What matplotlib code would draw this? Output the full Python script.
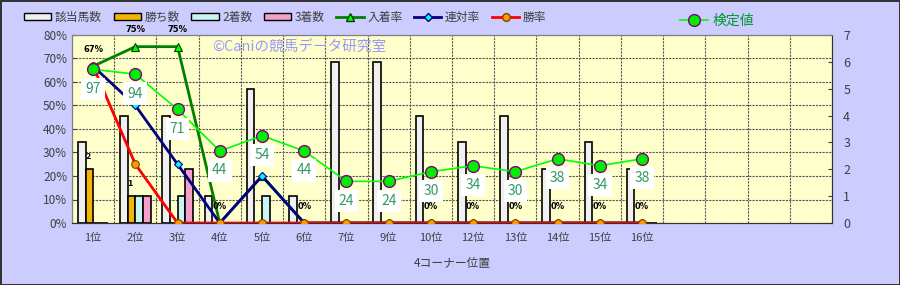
import matplotlib
matplotlib.use("Agg")
import matplotlib.pyplot as plt
import numpy as np
from matplotlib.lines import Line2D
from matplotlib.patches import Patch
from matplotlib.ticker import FuncFormatter, MultipleLocator

plt.rcParams["font.family"] = ["Noto Sans CJK JP", "DejaVu Sans"]
plt.rcParams["axes.unicode_minus"] = False

# ---- data ----
positions = ["1位", "2位", "3位", "4位", "5位", "6位", "7位", "9位",
             "10位", "12位", "13位", "14位", "15位", "16位", "", "", "", ""]
n_horses = [3, 4, 4, 1, 5, 1, 6, 6, 4, 3, 4, 2, 3, 2]
wins = [2, 1, 0, 0, 0, 0, 0, 0, 0, 0, 0, 0, 0, 0]
seconds = [0, 1, 1, 0, 1, 0, 0, 0, 0, 0, 0, 0, 0, 0]
thirds = [0, 1, 2, 0, 0, 0, 0, 0, 0, 0, 0, 0, 0, 0]
place_rate = [66.7, 75, 75, 0, 20, 0, 0, 0, 0, 0, 0, 0, 0, 0]
rentai_rate = [66.7, 50, 25, 0, 20, 0, 0, 0, 0, 0, 0, 0, 0, 0]
win_rate = [66.7, 25, 0, 0, 0, 0, 0, 0, 0, 0, 0, 0, 0, 0]
kentei = [5.72, 5.54, 4.23, 2.68, 3.25, 2.68, 1.55, 1.55, 1.91, 2.13, 1.91, 2.39, 2.13, 2.39]
kentei_labels = [97, 94, 71, 44, 54, 44, 24, 24, 30, 34, 30, 38, 34, 38]

BG = "#CCCCFF"
PLOT_BG = "#FFFFCC"
TXT = "#404040"

fig = plt.figure(figsize=(9, 2.85), dpi=100, facecolor=BG,
                 edgecolor="#333333", linewidth=2)
rect = [0.08, 0.2175, 0.8445, 0.66]

# base axes: percent scale, background + grid
ax = fig.add_axes(rect)
ax.set_facecolor(PLOT_BG)
ax.set_xlim(-0.5, len(positions) - 0.5)
ax.set_ylim(0, 80)
ax.yaxis.set_major_locator(MultipleLocator(10))
ax.yaxis.set_major_formatter(FuncFormatter(lambda v, p: f"{v:.0f}%"))
x = np.arange(len(positions))
ax.set_xticks(x)
ax.set_xticklabels(positions)
ax.set_xticks(np.arange(len(positions) + 1) - 0.5, minor=True)
ax.grid(axis="y", which="major", ls=(0, (2, 1)), color="#555555", lw=0.8)
ax.grid(axis="x", which="minor", ls=(0, (2, 1)), color="#555555", lw=0.8)
ax.tick_params(axis="x", which="both", length=0, labelsize=8, colors=TXT, pad=7)
ax.tick_params(axis="y", length=3, direction="in", labelsize=8.5, colors=TXT)
ax.set_xlabel("4コーナー位置", fontsize=8.5, color=TXT, labelpad=10)
for s in ax.spines.values():
    s.set_color("#808080")

# counts (bars) on 0-7 scale
ax_b = ax.twinx()
ax_b.set_ylim(0, 7)
ax_b.yaxis.set_major_locator(MultipleLocator(1))
ax_b.tick_params(axis="y", length=3, direction="in", labelsize=9, colors=TXT, pad=8)
for s in ax_b.spines.values():
    s.set_color("#808080")
ax_b.spines["right"].set_color("#333333")
ax_b.spines["bottom"].set_color("#333333")

xi = np.arange(len(n_horses))
w = 0.18
ax_b.bar(xi - 1.5 * w, n_horses, w, color="#F0F0F0", edgecolor="black", lw=1.2)
ax_b.bar(xi - 0.5 * w, wins, w, color="#F2B705", edgecolor="black", lw=1.2)
ax_b.bar(xi + 0.5 * w, seconds, w, color="#C8F4F4", edgecolor="black", lw=1.2)
ax_b.bar(xi + 1.5 * w, thirds, w, color="#F4A0C8", edgecolor="black", lw=1.2)
for xx, v in zip(xi, wins):
    if v > 0:
        ax_b.annotate(str(v), (xx - 0.5 * w, v), xytext=(-1, 6),
                      textcoords="offset points", ha="center", va="bottom",
                      fontsize=6.5, fontweight="bold", color="black")

# rates on percent scale, above bars
ax_r = ax.twinx()
ax_r.set_ylim(0, 80)
ax_r.axis("off")
ax_r.plot(xi, place_rate, color="#008000", lw=2, marker="^", ms=6,
          mfc="#00FF00", mec="#004000", mew=0.8)
ax_r.plot(xi, rentai_rate, color="#000080", lw=2, marker="D", ms=4.5,
          mfc="#00FFFF", mec="#000080", mew=0.8)
ax_r.plot(xi, win_rate, color="#FF0000", lw=2, marker="o", ms=5.5,
          mfc="#FF9900", mec="#804000", mew=0.8)
for xx, v in zip(xi, place_rate):
    ax_r.annotate(f"{v:.0f}%", (xx, v), xytext=(0, 9), textcoords="offset points",
                  ha="center", va="bottom", fontsize=6, fontweight="bold",
                  color="black", family="DejaVu Sans")

# 検定値 on 0-7 scale, top layer
ax_k = ax.twinx()
ax_k.set_ylim(0, 7)
ax_k.axis("off")
ax_k.plot(xi, kentei, color="#00FF00", lw=1.2, marker="o", ms=8.5,
          mfc="#00EE00", mec="#800080", mew=1)
for xx, v, lab in zip(xi, kentei, kentei_labels):
    ax_k.annotate(str(lab), (xx, v), xytext=(0, -14), textcoords="offset points",
                  ha="center", va="center", fontsize=10, color="#339966",
                  bbox=dict(boxstyle="square,pad=0.3", fc="white", ec="none"),
                  zorder=5)

ax_k.text(0.185, 0.93, "©Caniの競馬データ研究室", transform=ax.transAxes,
          fontsize=10.5, color="#9999FF", ha="left", va="center")

handles = [
    Patch(fc="#F0F0F0", ec="black", label="該当馬数"),
    Patch(fc="#F2B705", ec="black", label="勝ち数"),
    Patch(fc="#C8F4F4", ec="black", label="2着数"),
    Patch(fc="#F4A0C8", ec="black", label="3着数"),
    Line2D([], [], color="#008000", lw=2, marker="^", ms=6, mfc="#00FF00",
           mec="#004000", label="入着率"),
    Line2D([], [], color="#000080", lw=2, marker="D", ms=4.5, mfc="#00FFFF",
           mec="#000080", label="連対率"),
    Line2D([], [], color="#FF0000", lw=2, marker="o", ms=5.5, mfc="#FF9900",
           mec="#804000", label="勝率"),
]
fig.legend(handles=handles, loc="upper left", bbox_to_anchor=(0.015, 1.0),
           ncol=7, frameon=False, fontsize=8.5, handlelength=2.3,
           handleheight=0.45, handletextpad=0.3, columnspacing=1.0,
           labelcolor=TXT)
leg2 = fig.legend(handles=[Line2D([], [], color="#00FF00", lw=1.2, marker="o",
                                  ms=8.5, mfc="#00EE00", mec="#800080",
                                  label="検定値")],
                  loc="upper left", bbox_to_anchor=(0.742, 0.995), frameon=False,
                  fontsize=10, handlelength=2.0, handletextpad=0.3)
for t in leg2.get_texts():
    t.set_color("#009933")

fig.savefig("out.png", dpi=100, facecolor=fig.get_facecolor(),
            edgecolor=fig.get_edgecolor())
